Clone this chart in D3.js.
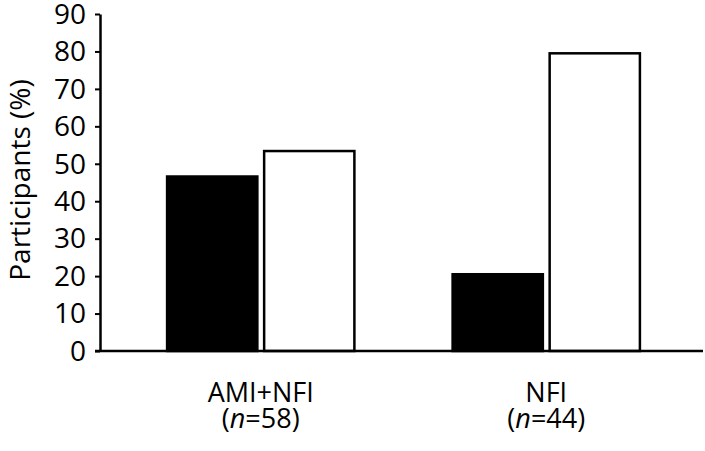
<!DOCTYPE html>
<html>
<head>
<meta charset="utf-8">
<script src="https://cdn.jsdelivr.net/npm/d3@7"></script>
<style>
  body { margin: 0; background: #fff; }
  text { font-family: "Open Sans", "Noto Sans", sans-serif; fill: #000; }
</style>
</head>
<body>
<script>
var groups = ["AMI+NFI", "NFI"];
var groupN = [58, 44];
var series = ["black", "white"];
var blackValues = [46.6, 20.5];
var whiteValues = [53.4, 79.5];
var yTicks = [0, 10, 20, 30, 40, 50, 60, 70, 80, 90];

var data = groups.map(function(g, i) {
    return {group: g, n: groupN[i], values: [
        {key: "black", value: blackValues[i]},
        {key: "white", value: whiteValues[i]}
    ]};
});

var svg = d3.select("body")
    .append("svg")
    .attr("width", 705)
    .attr("height", 451)
    .style("display", "block");

var axisX = 100;

var x0 = d3.scaleBand()
    .domain(groups)
    .range([110, 697])
    .paddingInner(0.344)
    .paddingOuter(0.2);

var x1 = d3.scaleBand()
    .domain(series)
    .range([0, x0.bandwidth()])
    .paddingInner(0.07);

var y = d3.scaleLinear()
    .domain([0, 90])
    .range([351, 14]);

// bars
var grp = svg.selectAll(".grp")
    .data(data)
    .enter()
    .append("g")
    .attr("class", "grp")
    .attr("transform", function(d) { return "translate(" + x0(d.group) + ",0)"; });

grp.selectAll("rect")
    .data(function(d) { return d.values; })
    .enter()
    .append("rect")
    .attr("x", function(d) { return x1(d.key); })
    .attr("y", function(d) { return y(d.value); })
    .attr("width", x1.bandwidth())
    .attr("height", function(d) { return y(0) - y(d.value); })
    .attr("fill", function(d) { return d.key == "black" ? "#000" : "#fff"; })
    .attr("stroke", "#000")
    .attr("stroke-width", 2.5);

// y axis
var yAxis = d3.axisLeft(y)
    .tickValues(yTicks)
    .tickSize(5)
    .tickPadding(9)
    .tickSizeOuter(0);

var ya = svg.append("g")
    .attr("transform", "translate(" + axisX + ",0)")
    .call(yAxis);
ya.select(".domain").attr("stroke-width", 2.5);
ya.selectAll(".tick line").attr("stroke-width", 2);
ya.selectAll("text")
    .style("font-size", "28px")
    .style("font-family", "'Open Sans', 'Noto Sans', sans-serif")
    .attr("dy", "0.33em");

// baseline
svg.append("line")
    .attr("x1", axisX - 5)
    .attr("x2", 703)
    .attr("y1", y(0))
    .attr("y2", y(0))
    .attr("stroke", "#000")
    .attr("stroke-width", 2.5);

// category labels
svg.selectAll(".cat")
    .data(data)
    .enter()
    .append("text")
    .attr("class", "cat")
    .attr("text-anchor", "middle")
    .attr("x", function(d) { return x0(d.group) + x0.bandwidth() / 2; })
    .attr("y", 402)
    .style("font-size", "27px")
    .text(function(d) { return d.group; });

var nl = svg.selectAll(".nlab")
    .data(data)
    .enter()
    .append("text")
    .attr("class", "nlab")
    .attr("text-anchor", "middle")
    .attr("x", function(d) { return x0(d.group) + x0.bandwidth() / 2; })
    .attr("y", 428)
    .style("font-size", "27px");
nl.append("tspan").text("(");
nl.append("tspan").style("font-style", "italic").text("n");
nl.append("tspan").text(function(d) { return "=" + d.n + ")"; });

// y title
svg.append("text")
    .attr("transform", "translate(30,180) rotate(-90)")
    .attr("text-anchor", "middle")
    .style("font-size", "28px")
    .text("Participants (%)");
</script>
</body>
</html>
